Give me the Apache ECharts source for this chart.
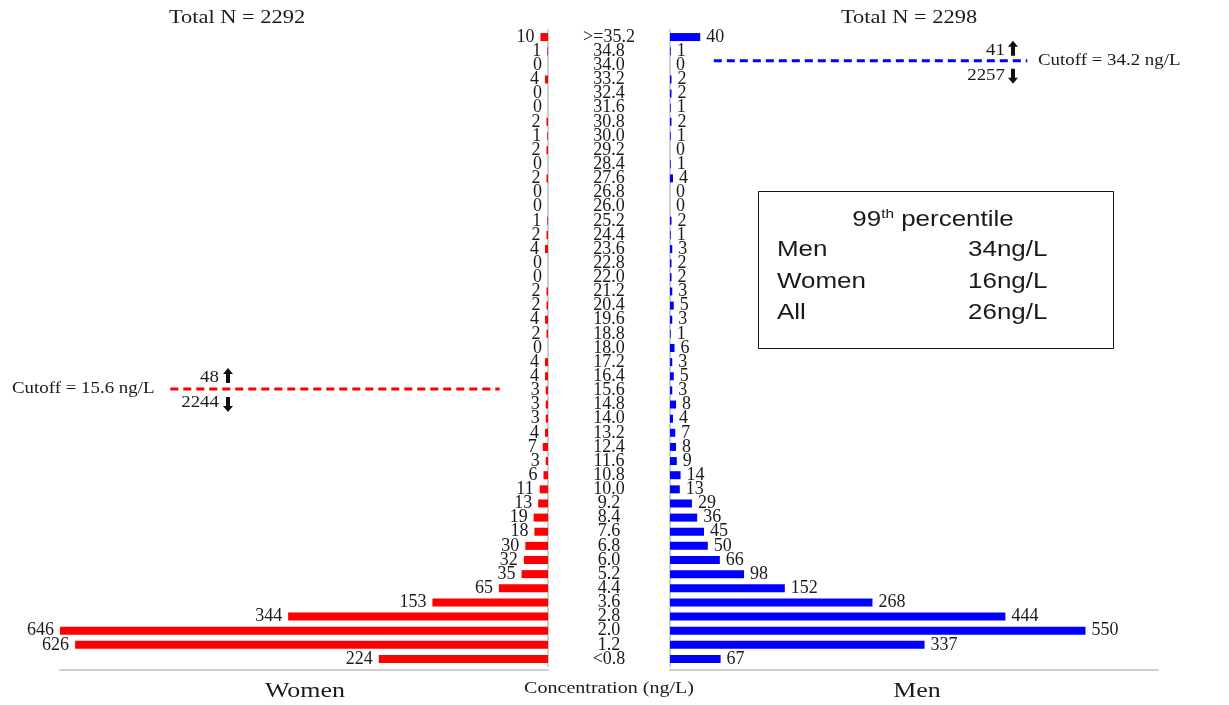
<!DOCTYPE html>
<html><head><meta charset="utf-8">
<script src="https://cdn.jsdelivr.net/npm/echarts@6/dist/echarts.min.js"></script>
<style>html,body{margin:0;padding:0;background:#fff}#c{width:1229px;height:705px}</style>
</head><body><div id="c"></div>
<script>
// ---- data ----
const categories = [">=35.2","34.8","34.0","33.2","32.4","31.6","30.8","30.0","29.2","28.4","27.6","26.8","26.0","25.2","24.4","23.6","22.8","22.0","21.2","20.4","19.6","18.8","18.0","17.2","16.4","15.6","14.8","14.0","13.2","12.4","11.6","10.8","10.0","9.2","8.4","7.6","6.8","6.0","5.2","4.4","3.6","2.8","2.0","1.2","<0.8"];
const women = [10,1,0,4,0,0,2,1,2,0,2,0,0,1,2,4,0,0,2,2,4,2,0,4,4,3,3,3,4,7,3,6,11,13,19,18,30,32,35,65,153,344,646,626,224];
const men = [40,1,0,2,2,1,2,1,0,1,4,0,0,2,1,3,2,2,3,5,3,1,6,3,5,3,8,4,7,8,9,14,13,29,36,45,50,66,98,152,268,444,550,337,67];
const totalN = [2292, 2298];            // women, men
const cutoffs = [15.6, 34.2];           // women, men (ng/L)
const cutoffAbove = [48, 41];
const cutoffBelow = [2244, 2257];
const groupNames = ["Women", "Men"];
const percentileRows = [["Men","34ng/L"],["Women","16ng/L"],["All","26ng/L"]];

// ---- chart ----
const serif = 'Liberation Serif';
const sans = 'Liberation Sans';
const txt = '#1a1a1a';
const gray = '#cfcfcf';
const chart = echarts.init(document.getElementById('c'), null, {renderer:'canvas'});

const valueAxis = (gi, inv) => ({
  type:'value', gridIndex:gi, inverse:inv, min:0, max:646, offset:4,
  axisLine:{show:true, lineStyle:{color:gray, width:2}},
  axisTick:{show:false}, axisLabel:{show:false}, splitLine:{show:false}
});

const labelStyle = {fontFamily:serif, fontSize:18, color:txt};

chart.setOption({
  animation:false,
  backgroundColor:'#fff',
  grid:[
    {left:60, top:30, width:488, height:636, outerBoundsMode:'none', containLabel:false},
    {left:670, top:30, width:488, height:636, outerBoundsMode:'none', containLabel:false}
  ],
  xAxis:[valueAxis(0,true), valueAxis(1,false)],
  yAxis:[
    {type:'category', gridIndex:0, data:categories, inverse:true, position:'right',
     axisLine:{show:true, lineStyle:{color:gray, width:2}}, axisTick:{show:false}, axisLabel:{show:false}, splitLine:{show:false}},
    {type:'category', gridIndex:1, data:categories, inverse:true, position:'left',
     axisLine:{show:true, lineStyle:{color:gray, width:2}}, axisTick:{show:false}, splitLine:{show:false},
     axisLabel:Object.assign({show:true, align:'center', margin:61, interval:0, hideOverlap:false}, labelStyle)}
  ],
  series:[
    {name:groupNames[0], type:'bar', xAxisIndex:0, yAxisIndex:0, data:women, barWidth:8,
     itemStyle:{color:'#ff0000'},
     label:Object.assign({show:true, position:'left', distance:6}, labelStyle)},
    {name:groupNames[1], type:'bar', xAxisIndex:1, yAxisIndex:1, data:men, barWidth:8,
     itemStyle:{color:'#0000ff'},
     label:Object.assign({show:true, position:'right', distance:6}, labelStyle)}
  ]
});

// pixel y of a concentration value, interpolated between category centres
const catNums = categories.map(c => parseFloat(c.replace(/[^0-9.]/g,'')));
function yOf(gi, v){
  for (let i=0;i<catNums.length-1;i++){
    if (v<=catNums[i] && v>=catNums[i+1]){
      const y1 = chart.convertToPixel({gridIndex:gi},[0,categories[i]])[1];
      const y2 = chart.convertToPixel({gridIndex:gi},[0,categories[i+1]])[1];
      const t = (catNums[i]-v)/(catNums[i]-catNums[i+1]);
      return y1 + (y2-y1)*t;
    }
  }
  return chart.convertToPixel({gridIndex:gi},[0,categories[0]])[1];
}
function xOf(gi, v){ return chart.convertToPixel({gridIndex:gi},[v,categories[0]])[0]; }

function T(x,y,text,o){
  o = o||{};
  return {type:'text', x:x, y:y, scaleX:o.sx||1.18, z:10,
    style:{text:text, fill:o.fill||txt, font:(o.weight||'normal')+' '+(o.size||16)+'px "'+(o.family||serif)+'"',
      align:o.align||'center', verticalAlign:'middle', rich:o.rich}};
}
function arrow(cx, yTop, yBot, up){
  const h = 6, hw = 5, sw = 2;
  let pts;
  if (up) pts = [[cx,yTop],[cx+hw,yTop+h],[cx+sw,yTop+h],[cx+sw,yBot],[cx-sw,yBot],[cx-sw,yTop+h],[cx-hw,yTop+h]];
  else pts = [[cx,yBot],[cx+hw,yBot-h],[cx+sw,yBot-h],[cx+sw,yTop],[cx-sw,yTop],[cx-sw,yBot-h],[cx-hw,yBot-h]];
  return {type:'polygon', z:10, shape:{points:pts}, style:{fill:'#111'}};
}

const yW = yOf(0, cutoffs[0]) - 1.5;
const yM = yOf(1, cutoffs[1]) - 1;
const g = [];
// cutoff lines
g.push({type:'line', z:10, shape:{x1:xOf(0,500), y1:yW, x2:xOf(0,64), y2:yW},
  style:{stroke:'#ff0000', lineWidth:3, lineDash:[8,5]}});
g.push({type:'line', z:10, shape:{x1:xOf(1,58), y1:yM, x2:xOf(1,473), y2:yM},
  style:{stroke:'#0000ff', lineWidth:3, lineDash:[8,5]}});
// women cutoff annotation
g.push(T(12, yW, 'Cutoff = ' + cutoffs[0] + ' ng/L', {align:'left', size:16}));
g.push(T(219, yW-11, String(cutoffAbove[0]), {align:'right', size:16}));
g.push(T(219, yW+14, String(cutoffBelow[0]), {align:'right', size:16}));
g.push(arrow(228, yW-21, yW-6, true));
g.push(arrow(228, yW+8, yW+23, false));
// men cutoff annotation
g.push(T(1038, yM, 'Cutoff = ' + cutoffs[1] + ' ng/L', {align:'left', size:16}));
g.push(T(1005, yM-10, String(cutoffAbove[1]), {align:'right', size:16}));
g.push(T(1005, yM+15, String(cutoffBelow[1]), {align:'right', size:16}));
g.push(arrow(1013, yM-20, yM-5, true));
g.push(arrow(1013, yM+8, yM+23, false));
// totals
g.push(T(237, 18, 'Total N = ' + totalN[0], {size:19}));
g.push(T(909, 18, 'Total N = ' + totalN[1], {size:19}));
// bottom labels
g.push(T(305, 691, groupNames[0], {size:22}));
g.push(T(917, 691, groupNames[1], {size:22}));
g.push(T(609, 689, 'Concentration (ng/L)', {size:17}));
// percentile box
g.push({type:'rect', z:9, shape:{x:758.5, y:191.5, width:355, height:157}, style:{fill:'#fff', stroke:'#111', lineWidth:1}});
g.push({type:'text', x:933, y:220, scaleX:1.18, z:10,
  style:{text:'{a|99}{s|th}{a| percentile}', align:'center', verticalAlign:'middle',
    rich:{a:{fontFamily:sans, fontSize:22, fill:txt, color:txt},
          s:{fontFamily:sans, fontSize:13, fill:txt, color:txt, verticalAlign:'top', padding:[0,0,12,0]}}}});
percentileRows.forEach((r,i) => {
  const y = 250 + i*31.5;
  g.push(T(777, y, r[0], {align:'left', size:22, family:sans}));
  g.push(T(968, y, r[1], {align:'left', size:22, family:sans}));
});
chart.setOption({graphic:{elements:g}});
</script>
</body></html>
